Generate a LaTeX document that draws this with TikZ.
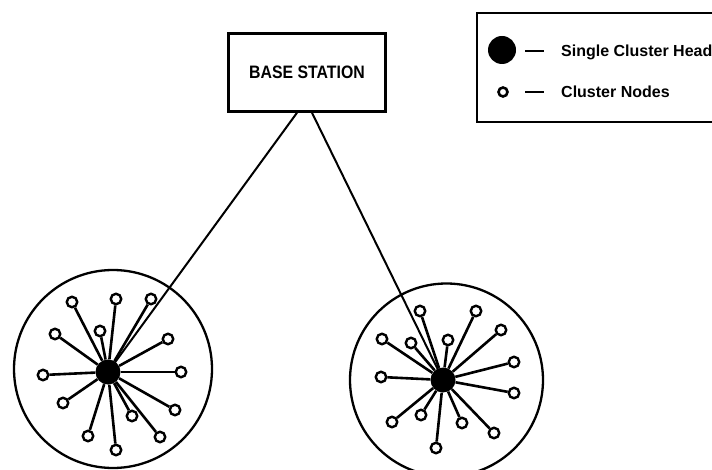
\documentclass[tikz,border=0pt]{standalone}
\usepackage{fontspec}
\setmainfont{Liberation Sans}
\newfontfamily\bsfont[FakeStretch=0.88]{Liberation Sans}
\begin{document}
\begin{tikzpicture}[x=1pt,y=-1pt,
  cnode/.style={circle,draw,fill=white,inner sep=0pt,minimum size=10.5pt,line width=2.4pt},
  chead/.style={circle,fill=black,inner sep=0pt,minimum size=25pt},
  cring/.style={circle,draw,inner sep=0pt,line width=2.3pt},
  spoke/.style={line width=2.6pt},
  link/.style={line width=2pt},
  lbl/.style={font=\bfseries\fontsize{16}{19}\selectfont,anchor=west,inner sep=0pt}]
\clip (0,0) rectangle (712,470);
\fill[white] (0,0) rectangle (712,470);
% base station
\node[draw,line width=2.5pt,minimum width=157pt,minimum height=78pt,inner sep=0pt,
  font=\bsfont\bfseries\fontsize{18}{21}\selectfont] (bs) at (307,72.5) {BASE STATION};
% legend
\node[draw,line width=1.4pt,minimum width=280pt,minimum height=109pt,inner sep=0pt] (leg) at (617,67.5) {};
\node[circle,fill=black,inner sep=0pt,minimum size=28pt] (lh) at (502,50) {};
\node[cnode,minimum size=9pt,line width=2.6pt] (ln) at (503,92) {};
\coordinate (d1a) at (525,51); \coordinate (d1b) at (544,51);
\coordinate (d2a) at (525,92); \coordinate (d2b) at (544,92);
\draw[line width=2.8pt] (d1a) -- (d1b);
\draw[line width=2.8pt] (d2a) -- (d2b);
\node[lbl] (t1) at (561,52) {Single Cluster Head};
\node[lbl] (t2) at (561,92) {Cluster Nodes};
% clusters
\node[cring,minimum size=198pt] (r1) at (113,369) {};
\node[cring,minimum size=193pt] (r2) at (446.5,380) {};
\node[chead] (h1) at (108,372) {};
\node[chead] (h2) at (443,380) {};
\foreach \i/\p in {1/{72,302},2/{116,299},3/{151,299},4/{100,331},5/{55,334},6/{168,339},7/{43,375},8/{181,372},9/{63,403},10/{175,410},11/{132,416},12/{88,436},13/{160,437},14/{116,450}}{
  \node[cnode] (a\i) at (\p) {};
  \draw[spoke] (h1) -- (a\i);
}
\foreach \i/\p in {1/{420,311},2/{476,311},3/{382,339},4/{411,343},5/{448,340},6/{501,330},7/{514,362},8/{381,377},9/{514,393},10/{421,415},11/{392,422},12/{462,423},13/{494,433},14/{436,448}}{
  \node[cnode] (b\i) at (\p) {};
  \draw[spoke] (h2) -- (b\i);
}
% links
\draw[link] ([xshift=-10pt]bs.south) -- (h1.center);
\draw[link] ([xshift=5pt]bs.south) -- (h2.center);
\end{tikzpicture}
\end{document}
